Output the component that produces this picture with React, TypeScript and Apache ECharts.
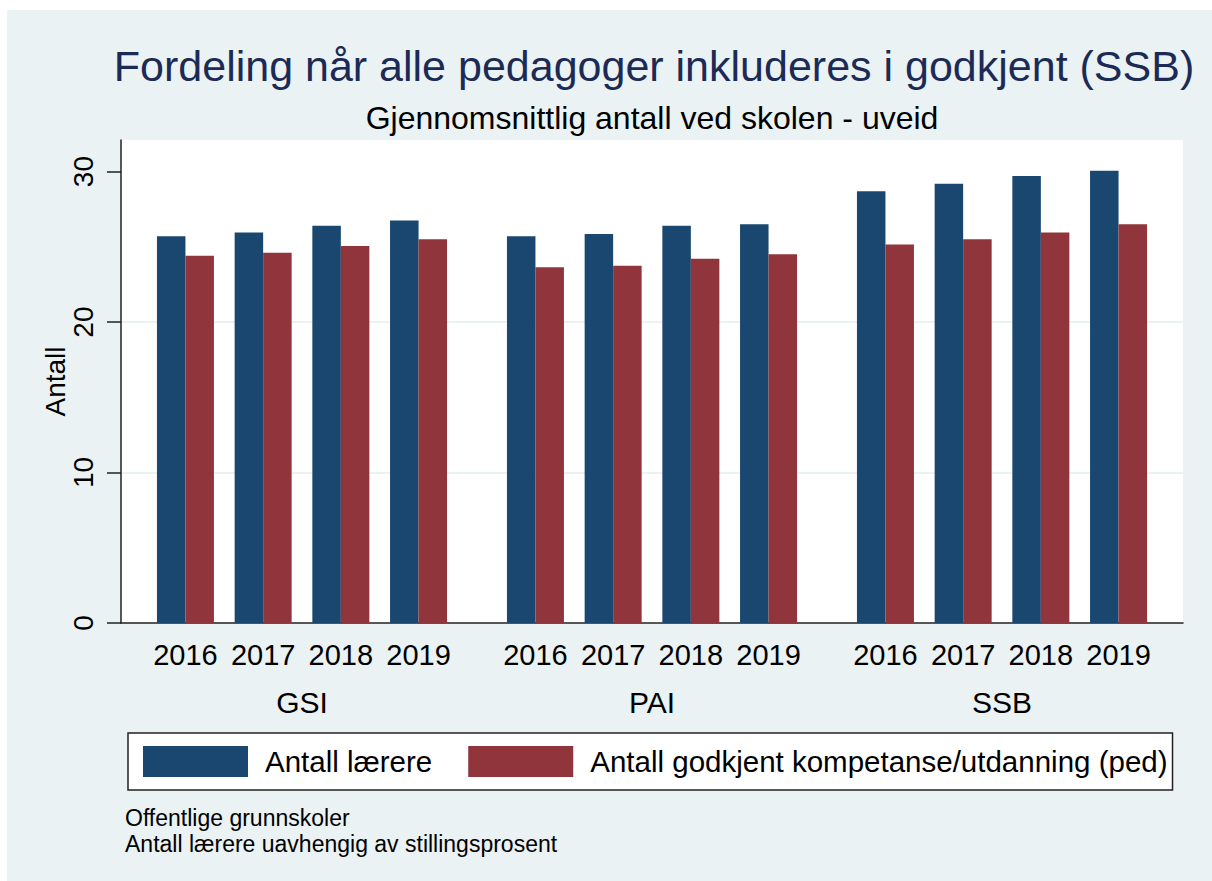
import React, { useEffect, useRef } from "react";
import * as echarts from "echarts";

const years = ["2016", "2017", "2018", "2019"];
const groups = ["GSI", "PAI", "SSB"];
const seriesNames = ["Antall lærere", "Antall godkjent kompetanse/utdanning (ped)"];
const laerere = {
  GSI: [25.7, 25.95, 26.4, 26.75],
  PAI: [25.7, 25.85, 26.4, 26.5],
  SSB: [28.7, 29.2, 29.7, 30.05],
};
const godkjent = {
  GSI: [24.4, 24.6, 25.05, 25.5],
  PAI: [23.65, 23.75, 24.2, 24.5],
  SSB: [25.15, 25.5, 25.95, 26.5],
};
const yTicks = [0, 10, 20, 30];
const titleText = "Fordeling når alle pedagoger inkluderes i godkjent (SSB)";
const subtitleText = "Gjennomsnittlig antall ved skolen - uveid";
const yAxisTitle = "Antall";
const notes = ["Offentlige grunnskoler", "Antall lærere uavhengig av stillingsprosent"];

const FONT = 'Arial, "Liberation Sans", sans-serif';
const BLUE = "#1a476f";
const RED = "#90353b";
const BG = "#eaf2f3";

export default function App() {
  const ref = useRef<HTMLDivElement>(null);
  useEffect(() => {
    document.body.style.margin = "0";
    if (!ref.current) return;
    const chart = echarts.init(ref.current, null, { renderer: "svg" });
    const plotLeft = 121;
    const plotTop = 140;
    const plotW = 1062;
    const plotH = 483;
    const yMax = 32.1;
    const groupCenters = [302, 652, 1002];
    const groupW = 310.8;

    const grids: any[] = [
      { left: plotLeft, top: plotTop, width: plotW, height: plotH, show: true, backgroundColor: "#fff", borderWidth: 0 },
    ];
    const xAxes: any[] = [
      {
        type: "value", gridIndex: 0, min: 0, max: 1,
        axisLine: { show: true, lineStyle: { color: "#222", width: 1.5 } },
        axisTick: { show: false }, axisLabel: { show: false }, splitLine: { show: false },
      },
    ];
    const yAxes: any[] = [
      {
        type: "value", gridIndex: 0, min: 0, max: yMax, interval: 10,
        name: yAxisTitle, nameLocation: "middle", nameRotate: 90, nameGap: 52, nameMoveOverlap: false,
        nameTextStyle: { fontFamily: FONT, fontSize: 28, color: "#000" },
        axisLine: { show: true, lineStyle: { color: "#222", width: 1.5 } },
        axisTick: { show: true, length: 14, lineStyle: { color: "#222", width: 1.5 }, customValues: yTicks },
        axisLabel: { show: false },
        splitLine: { show: true, showMinLine: false, showMaxLine: false, lineStyle: { color: BG, width: 2 } },
      },
    ];
    const series: any[] = [];
    groups.forEach((g, i) => {
      const gi = i + 1;
      grids.push({ left: groupCenters[i] - groupW / 2, top: plotTop, width: groupW, height: plotH, show: false });
      xAxes.push({
        type: "category", gridIndex: gi, data: years,
        name: g, nameLocation: "middle", nameGap: 64,
        nameTextStyle: { fontFamily: FONT, fontSize: 30, color: "#000" },
        axisLine: { show: false }, axisTick: { show: false },
        axisLabel: { interval: 0, fontFamily: FONT, fontSize: 29, color: "#000", margin: 17 },
      });
      yAxes.push({ type: "value", gridIndex: gi, min: 0, max: yMax, show: false, splitLine: { show: false } });
      series.push({
        type: "bar", name: seriesNames[0], xAxisIndex: gi, yAxisIndex: gi,
        data: (laerere as any)[g], barWidth: 28.5, barGap: "0%", itemStyle: { color: BLUE },
      });
      series.push({
        type: "bar", name: seriesNames[1], xAxisIndex: gi, yAxisIndex: gi,
        data: (godkjent as any)[g], barWidth: 28.5, barGap: "0%", itemStyle: { color: RED },
      });
    });

    const staticGraphics: any[] = [
      {
        type: "text", x: 654, y: 66,
        style: { text: titleText, fill: "#1c2b56", font: `43px ${FONT}`, textAlign: "center", textVerticalAlign: "middle" },
      },
      {
        type: "text", x: 652, y: 118,
        style: { text: subtitleText, fill: "#000", font: `32px ${FONT}`, textAlign: "center", textVerticalAlign: "middle" },
      },
      {
        type: "text", x: 125, y: 805,
        style: {
          text: notes.join("\n"), fill: "#000", font: `23px ${FONT}`, lineHeight: 26,
          textAlign: "left", textVerticalAlign: "top",
        },
      },
    ];

    chart.setOption({
      animation: false,
      backgroundColor: "transparent",
      grid: grids,
      xAxis: xAxes,
      yAxis: yAxes,
      series,
      legend: {
        data: seriesNames,
        left: 128, top: 733,
        orient: "horizontal",
        padding: [13, 5, 13, 15],
        itemGap: 36, itemWidth: 105, itemHeight: 31,
        icon: "rect",
        backgroundColor: "#fff", borderColor: "#222", borderWidth: 1.5, borderRadius: 0,
        textStyle: { fontFamily: FONT, fontSize: 29.5, color: "#000", padding: [0, 0, 0, 12] },
        selectedMode: false,
      },
      graphic: staticGraphics,
    });

    // Rotated y tick labels, placed through the y axis scale
    const tickLabels = yTicks.map((v) => {
      const py = chart.convertToPixel({ yAxisIndex: 0 }, v) as number;
      return {
        type: "text", x: 83, y: py, rotation: Math.PI / 2,
        style: { text: String(v), fill: "#000", font: `28px ${FONT}`, textAlign: "center", textVerticalAlign: "middle" },
      };
    });
    chart.setOption({ graphic: [...staticGraphics, ...tickLabels] }, { replaceMerge: ["graphic"] });

    return () => chart.dispose();
  }, []);

  return (
    <div style={{ position: "relative", width: 1212, height: 881, background: "#fff", overflow: "hidden" }}>
      <div style={{ position: "absolute", left: 7, top: 10, right: 0, bottom: 0, background: BG }} />
      <div ref={ref} style={{ position: "absolute", left: 0, top: 0, width: 1212, height: 881 }} />
    </div>
  );
}
